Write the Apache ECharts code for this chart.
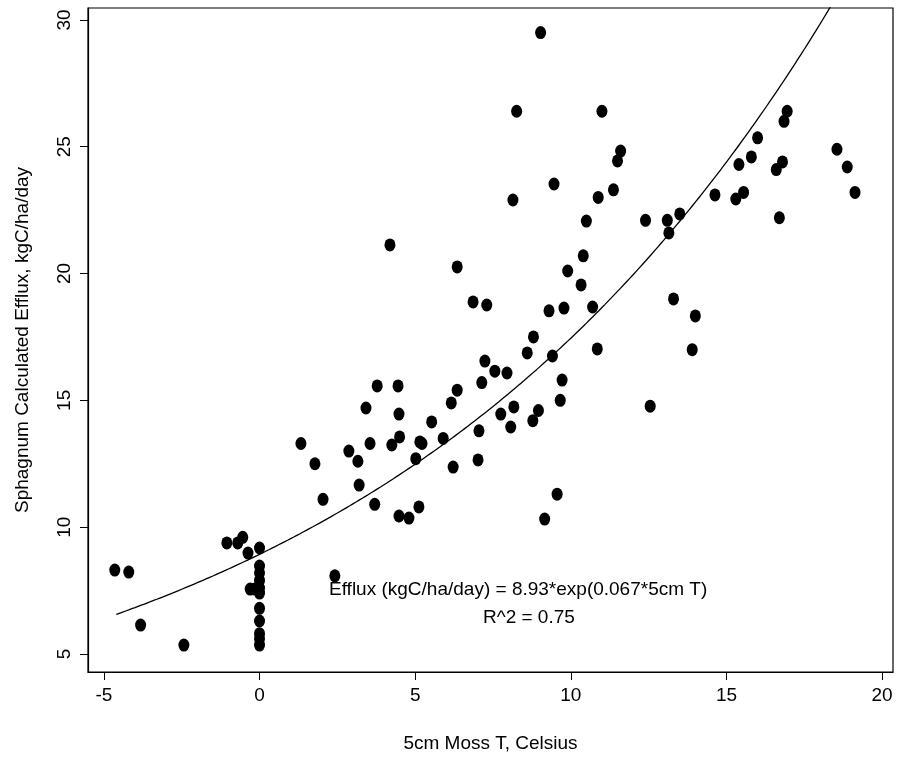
<!DOCTYPE html>
<html>
<head>
<meta charset="utf-8">
<script src="https://cdn.jsdelivr.net/npm/echarts@6/dist/echarts.min.js"></script>
<style>html,body{margin:0;padding:0;background:#fff}#chart{width:899px;height:772px}</style>
</head>
<body>
<div id="chart"></div>
<script>
// observed points: 5cm moss temperature (C) and efflux (kgC/ha/day)
var mossT = [-4.65,-4.2,-3.82,-2.43,-1.05,-0.7,-0.54,-0.37,-0.3,-0.15,0,0,0,0,0,0,0,0,0,0,0,
  1.33,1.78,2.04,2.42,2.87,3.16,3.2,3.42,3.55,3.7,3.78,4.19,4.25,4.48,4.45,4.5,4.48,4.8,5.02,5.12,5.15,5.22,
  5.53,5.9,6.16,6.22,6.35,6.35,6.86,7.02,7.05,7.14,7.24,7.3,7.56,7.75,7.95,8.07,8.14,8.17,8.26,8.6,8.8,8.78,
  8.96,9.03,9.16,9.3,9.41,9.46,9.56,9.66,9.72,9.78,9.9,10.33,10.4,10.5,10.7,10.85,10.88,11.0,11.37,11.5,11.6,
  12.4,12.55,13.1,13.15,13.3,13.5,13.9,14.0,14.63,15.3,15.4,15.55,15.8,16.0,16.6,16.7,16.8,16.85,16.95,
  18.55,18.88,19.13];
var efflux = [8.31,8.23,6.14,5.35,9.38,9.38,9.6,8.98,7.56,7.56,9.18,8.47,8.2,7.9,7.6,7.4,6.8,6.3,5.8,5.6,5.35,
  13.3,12.5,11.1,8.08,13.0,12.6,11.66,14.7,13.3,10.9,15.57,21.13,13.24,14.46,15.57,13.56,10.44,10.36,12.7,10.8,13.36,13.3,
  14.15,13.5,14.9,12.37,15.4,20.26,18.88,12.65,13.8,15.7,16.55,18.76,16.15,14.46,16.08,13.95,22.9,14.74,26.4,16.87,17.5,14.2,
  14.6,29.5,10.32,18.53,16.75,23.53,11.3,15.0,15.8,18.64,20.1,19.55,20.7,22.07,18.68,17.03,23.0,26.4,23.3,24.44,24.83,
  22.1,14.77,22.1,21.6,19.0,22.35,17.0,18.33,23.1,22.94,24.3,23.2,24.6,25.35,24.1,22.2,24.4,26.0,26.4,
  24.9,24.2,23.2];
var xTicks = [-5, 0, 5, 10, 15, 20];
var yTicks = [5, 10, 15, 20, 25, 30];
var fitA = 8.93, fitB = 0.067;

var pts = mossT.map(function (t, i) { return [t, efflux[i]]; });
var fit = [];
for (var t = -4.6; t <= 18.4; t += 0.1) fit.push([t, fitA * Math.exp(fitB * t)]);

var chart = echarts.init(document.getElementById('chart'));
var font = 'Liberation Sans, Arial, sans-serif';
function axisCommon(ticks, rot) {
  return {
    axisLine: { show: true, onZero: false, lineStyle: { color: '#000', width: 1.2 } },
    axisTick: { show: true, inside: false, length: 8, lineStyle: { color: '#000' },
      customValues: ticks },
    axisLabel: { color: '#000', fontSize: 19, fontFamily: font, rotate: rot, margin: 14,
      customValues: ticks },
    splitLine: { show: false }
  };
}
var xa = axisCommon(xTicks, 0);
xa.type = 'value'; xa.min = -5.51; xa.max = 20.35;
xa.name = '5cm Moss T, Celsius'; xa.nameLocation = 'middle'; xa.nameGap = 62;
xa.nameTextStyle = { color: '#000', fontSize: 19, fontFamily: font };
var ya = axisCommon(yTicks, 90);
ya.type = 'value'; ya.min = 4.29; ya.max = 30.47;
ya.name = 'Sphagnum Calculated Efflux, kgC/ha/day'; ya.nameLocation = 'middle'; ya.nameGap = 56;
ya.nameTextStyle = { color: '#000', fontSize: 19, fontFamily: font };

chart.setOption({
  animation: false,
  grid: { left: 88, right: 6, top: 8, bottom: 100, show: true, borderColor: '#000', borderWidth: 1.2 },
  xAxis: xa,
  yAxis: ya,
  series: [
    { type: 'scatter', data: pts, symbol: 'circle', symbolSize: [11, 13],
      itemStyle: { color: '#000', opacity: 1 } },
    { type: 'line', data: fit, showSymbol: false, smooth: false,
      lineStyle: { color: '#000', width: 1.3 } }
  ],
  graphic: [
    { type: 'text', left: 329, top: 580, style: { text: 'Efflux (kgC/ha/day) = 8.93*exp(0.067*5cm T)',
      fontSize: 19, fontFamily: font, fill: '#000' } },
    { type: 'text', left: 483, top: 608, style: { text: 'R^2 = 0.75',
      fontSize: 19, fontFamily: font, fill: '#000' } }
  ]
});
</script>
</body>
</html>
